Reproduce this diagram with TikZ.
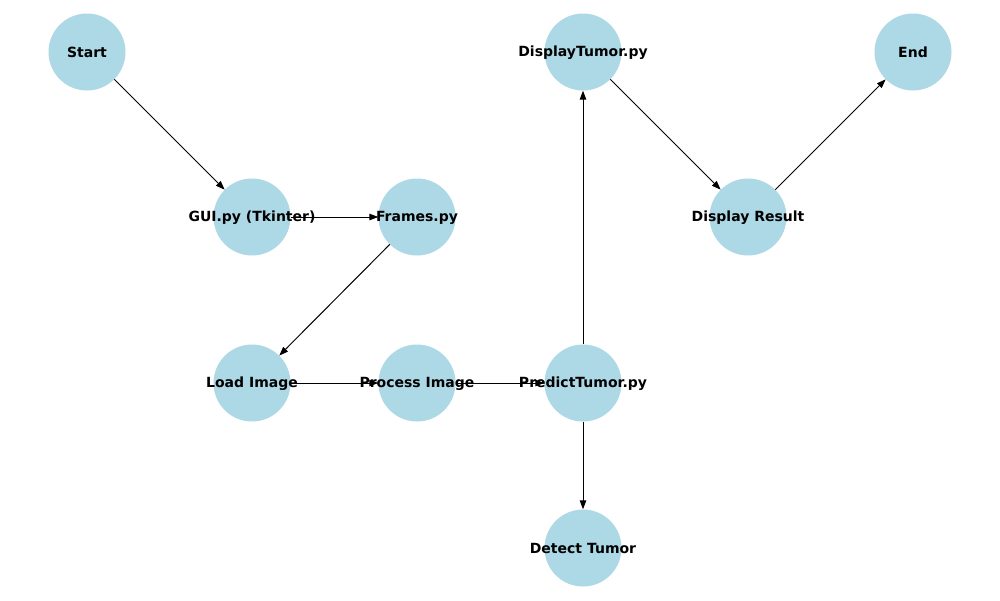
\documentclass[tikz,border=0pt]{standalone}
\usepackage{fontspec}
\setmainfont{DejaVu Sans}
\usetikzlibrary{arrows.meta}
\definecolor{nodeblue}{HTML}{ADD8E6}
\begin{document}
\begin{tikzpicture}[x=1pt,y=-1pt,
  nd/.style={circle,fill=nodeblue,minimum size=77pt,inner sep=0pt},
  lbl/.style={font=\fontsize{14}{16}\selectfont\bfseries,inner sep=0pt,yshift=-0.5pt},
  edge/.style={draw=black,line width=1pt,-{Triangle[length=9pt,width=6.5pt]}}]
\useasboundingbox (0,0) rectangle (1000,600);
\node[nd] (start) at (87,52) {};
\node[nd] (gui) at (252,217) {};
\node[nd] (frames) at (417,217) {};
\node[nd] (load) at (252,383) {};
\node[nd] (proc) at (417,383) {};
\node[nd] (pred) at (583,383) {};
\node[nd] (detect) at (583,548) {};
\node[nd] (dtum) at (583,52) {};
\node[nd] (dres) at (748,217) {};
\node[nd] (end) at (913,52) {};
\draw[edge] (start) -- (gui);
\draw[edge] (gui) -- (frames);
\draw[edge] (frames) -- (load);
\draw[edge] (load) -- (proc);
\draw[edge] (proc) -- (pred);
\draw[edge] (pred) -- (dtum);
\draw[edge] (pred) -- (detect);
\draw[edge] (dtum) -- (dres);
\draw[edge] (dres) -- (end);
\node[lbl] at (start) {Start};
\node[lbl] at (gui) {GUI.py (Tkinter)};
\node[lbl] at (frames) {Frames.py};
\node[lbl] at (load) {Load Image};
\node[lbl] at (proc) {Process Image};
\node[lbl] at (pred) {PredictTumor.py};
\node[lbl] at (detect) {Detect Tumor};
\node[lbl] at (dtum) {DisplayTumor.py};
\node[lbl] at (dres) {Display Result};
\node[lbl] at (end) {End};
\end{tikzpicture}
\end{document}
